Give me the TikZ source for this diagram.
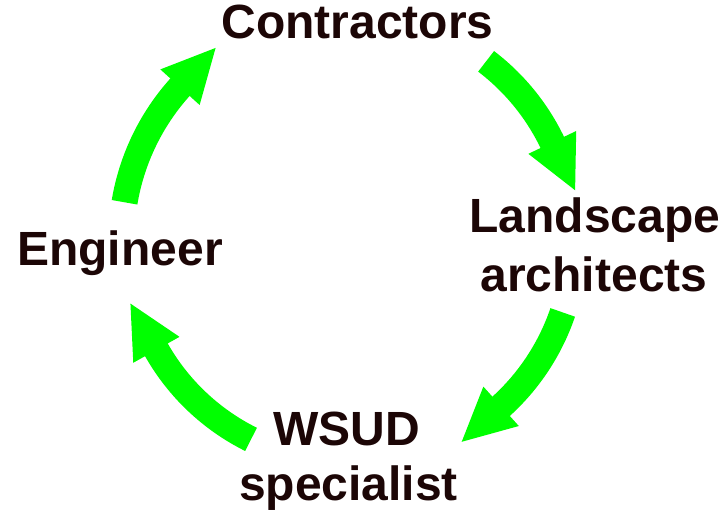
\documentclass[tikz,border=0pt]{standalone}
\usepackage{fontspec}
\setmainfont{Liberation Sans}
\usetikzlibrary{calc}
\definecolor{cyclegreen}{RGB}{0,255,0}
\definecolor{labeldark}{RGB}{28,6,6}
\tikzset{
  role/.style={anchor=base, inner sep=0pt, text=labeldark,
    font=\fontsize{48}{56}\selectfont\bfseries},
  shaft/.style={draw=cyclegreen, line width=26pt},
  head/.style={fill=cyclegreen},
}
% curved cycle arrow: name, start angle, end angle, radius (around "hub")
\newcommand\cyclearrow[4]{%
  \coordinate (#1tail) at ($(hub)+(#2:#4)$);
  \draw[shaft] (#1tail) arc[start angle=#2, end angle=#3, radius=#4] coordinate (#1base);
  \fill[head] ($(#1base)+(#3:26.5)+({#3-90}:1)$)
     -- ($(#1base)+({#3+90}:52)$) coordinate (#1tip)
     -- ($(#1base)+({#3+180}:26.5)+({#3-90}:1)$) -- cycle;
}
\begin{document}
\begin{tikzpicture}[x=1pt, y=-1pt]
  \useasboundingbox (0,0) rectangle (728,512);
  \coordinate (hub) at (350,240);

  % labels
  \node[role] (contractors) at (357.5,38) {Contractors};
  \node[role] (engineer) at (120,265) {Engineer};
  \node[role] (landscape) at (595,232) {Landscape};
  \node[role] (architects) at (594,291) {architects};
  \node[role] (wsud) at (346.5,445) {WSUD};
  \node[role] (specialist) at (348.5,500) {specialist};

  % arrows, running clockwise
  \cyclearrow{engtocon}{189.5}{222.2}{228.6}
  \cyclearrow{contoland}{307.3}{334.5}{224.6}
  \cyclearrow{landtowsud}{18.8}{48.0}{224.7}
  \cyclearrow{wsudtoeng}{116.4}{150.7}{222.6}
\end{tikzpicture}
\end{document}
